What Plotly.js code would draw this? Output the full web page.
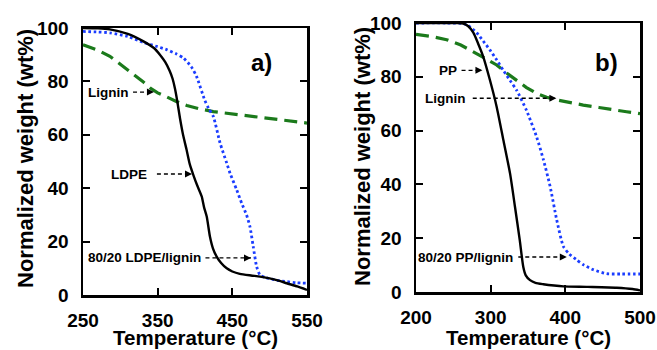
<!DOCTYPE html>
<html>
<head>
<meta charset="utf-8">
<script src="https://cdn.plot.ly/plotly-3.0.1.min.js"></script>
<style>html,body{margin:0;padding:0;background:#fff;}#chart{width:657px;height:350px;}</style>
</head>
<body>
<div id="chart"></div>
<script>
// Panel a) LDPE
const ldpeT = [250, 270, 286, 310, 331, 345, 353, 360, 366, 370, 373, 376, 380, 384, 388.8, 393, 397.7, 403, 409, 412, 415.7, 420, 424, 429, 435, 442.5, 450, 460, 475, 487, 500, 512, 522.8, 537, 550];
const ldpeW = [100, 99.9, 99.5, 97.8, 95, 92.5, 90, 87.3, 84, 81, 77.5, 73, 66, 60, 54.3, 49, 45, 41, 36.9, 33, 29.4, 21.9, 17.5, 14.4, 12, 10, 8.8, 7.9, 7.3, 6.9, 6.2, 5.4, 4.4, 3.2, 1.9];
const ldpeBlendT = [250, 270, 286, 310, 331, 350, 362, 375, 384.5, 395, 402, 413, 418, 424.5, 433.5, 442.5, 447, 455.8, 462.5, 469, 473.6, 478, 482.6, 487, 495, 510, 522.8, 535, 550];
const ldpeBlendW = [98.7, 98.5, 98.2, 96.8, 94.6, 93, 91.9, 90.3, 88.75, 85.5, 81.9, 73, 70, 66.9, 57, 49.4, 45.6, 39.4, 34.4, 30, 25.6, 18.1, 10.6, 7.5, 6.5, 5.5, 5, 4.6, 4.4];
const ligninAT = [250, 270, 286, 300, 317, 330, 340, 350, 362, 375, 389, 405, 424.5, 450, 478, 510, 550];
const ligninAW = [93.7, 91.7, 89.4, 86.5, 83, 80, 77.5, 75.7, 74.2, 72.5, 71, 69.8, 68.7, 67.8, 66.9, 65.8, 64.4];

// Panel b) PP
const ppT = [200, 230, 255, 263.4, 270, 276.8, 283, 290, 299, 308, 317, 326, 332.6, 339, 343.7, 347, 352.7, 360, 370.5, 385, 397.3, 430, 468.8, 490, 500];
const ppW = [100, 100, 100, 99.8, 98.8, 96.4, 92.5, 87.5, 78.8, 68.9, 56.5, 44, 31.6, 19.2, 9.3, 6.2, 4.4, 3.4, 2.9, 2.4, 2.1, 1.9, 1.6, 1.1, 0.6];
const ppBlendT = [200, 240, 263, 270, 281.3, 290, 299, 308, 317, 326, 334.8, 348, 361.6, 370.5, 379.5, 388.4, 397.3, 405, 415, 425, 437.5, 455.4, 475, 500];
const ppBlendW = [100, 100, 99.8, 99, 96.4, 93.3, 90, 86.3, 82.4, 78.6, 75, 67.5, 57.6, 49.3, 39.4, 26.9, 17, 14.2, 12, 10, 8.3, 6.8, 6.7, 6.7];
const ligninBT = [200, 220, 241, 260, 276.8, 290, 308, 320, 334.8, 348, 361.6, 375, 388.4, 405, 424, 445, 464, 482, 500];
const ligninBW = [95.8, 95, 93.8, 91.8, 89.3, 87.2, 84.4, 81.7, 78.8, 76, 73.8, 72.4, 71.4, 70.4, 69.5, 68.6, 67.7, 67, 66.3];

const xTicksA = [250, 350, 450, 550];
const xTicksB = [200, 300, 400, 500];
const yTicks = [0, 20, 40, 60, 80, 100];

const BLACK = '#000000', GREEN = '#1b7a1b', BLUE = '#1a3cff';
const greenDash = '13px,7px';
const blueDot = '2.6px,2.7px';

const traces = [
  {x: ligninAT, y: ligninAW, xaxis: 'x', yaxis: 'y', mode: 'lines', line: {color: GREEN, width: 3.2, dash: greenDash}},
  {x: ldpeBlendT, y: ldpeBlendW, xaxis: 'x', yaxis: 'y', mode: 'lines', line: {color: BLUE, width: 2.8, dash: blueDot, shape: 'spline', smoothing: 0.6}},
  {x: ldpeT, y: ldpeW, xaxis: 'x', yaxis: 'y', mode: 'lines', line: {color: BLACK, width: 2.4, shape: 'spline', smoothing: 0.6}},
  {x: ligninBT, y: ligninBW, xaxis: 'x2', yaxis: 'y2', mode: 'lines', line: {color: GREEN, width: 3.2, dash: greenDash}},
  {x: ppBlendT, y: ppBlendW, xaxis: 'x2', yaxis: 'y2', mode: 'lines', line: {color: BLUE, width: 2.8, dash: blueDot, shape: 'spline', smoothing: 0.6}},
  {x: ppT, y: ppW, xaxis: 'x2', yaxis: 'y2', mode: 'lines', line: {color: BLACK, width: 2.4, shape: 'spline', smoothing: 0.6}}
];

const tickFont = {family: 'Arial, Liberation Sans, sans-serif', size: 19, color: '#000', weight: 'bold'};
function xax(domain, range, ticks, anchor) {
  return {domain: domain, range: range, tickvals: ticks, ticktext: ticks.map(String), anchor: anchor,
    showline: true, linecolor: '#000', linewidth: 2.5, mirror: 'ticks', ticks: 'inside', ticklen: 7, tickwidth: 2,
    tickcolor: '#000', showgrid: false, zeroline: false, tickfont: tickFont, fixedrange: true, ticklabelstandoff: 7};
}
function yax(domain, anchor) {
  return {domain: domain, range: [0, 100], tickvals: yTicks, ticktext: yTicks.map(String), anchor: anchor,
    showline: true, linecolor: '#000', linewidth: 2.5, mirror: 'ticks', ticks: 'inside', ticklen: 7, tickwidth: 2,
    tickcolor: '#000', showgrid: false, zeroline: false, tickfont: tickFont, fixedrange: true, ticklabelstandoff: 8};
}

const W = 657, H = 350;
const FAM = 'Arial, Liberation Sans, sans-serif';
const annFont = {family: FAM, size: 13.5, color: '#000', weight: 'bold'};
const xTitleFont = {family: FAM, size: 20.5, color: '#000', weight: 'bold'};
const yTitleFont = {family: FAM, size: 22, color: '#000', weight: 'bold'};

// labels with dashed arrows: [xref, yref, text, textEndX, arrowStartX, arrowEndX, y]
const labels = [
  ['x', 'y', 'Lignin', 314, 317, 345, 76],
  ['x', 'y', 'LDPE', 339, 349, 396, 45.3],
  ['x', 'y', '80/20 LDPE/lignin', 411, 414, 475, 13.9],
  ['x2', 'y2', 'PP', 257, 261, 289, 82.4],
  ['x2', 'y2', 'Lignin', 270, 276, 388, 72],
  ['x2', 'y2', '80/20 PP/lignin', 332, 337, 402, 13]
];

const annotations = [];
const shapes = [];
labels.forEach(l => {
  annotations.push({xref: l[0], yref: l[1], x: l[3], y: l[6], text: l[2], showarrow: false, xanchor: 'right', yanchor: 'middle', font: annFont});
  shapes.push({type: 'line', xref: l[0], yref: l[1], x0: l[4], x1: l[5], y0: l[6], y1: l[6], line: {color: '#000', width: 1.4, dash: '4px,3px'}});
  annotations.push({xref: l[0], yref: l[1], x: l[5], y: l[6], ax: -6, ay: 0, text: '', showarrow: true, arrowhead: 2, arrowsize: 1, arrowwidth: 1.4, arrowcolor: '#000'});
});
function pAnn(x, y, text, font, angle, yanchor) {
  const a = {xref: 'paper', yref: 'paper', x: x / W, y: 1 - y / H, text: text, showarrow: false, xanchor: 'center', yanchor: yanchor || 'middle', font: font, borderpad: 0};
  if (angle !== undefined) a.textangle = angle;
  annotations.push(a);
}
const panelFont = {family: FAM, size: 24, color: '#000', weight: 'bold'};
pAnn(261, 63, 'a)', panelFont);
pAnn(606, 62, 'b)', panelFont);
pAnn(195, 350, 'Temperature (°C)', xTitleFont, undefined, 'bottom');
pAnn(528, 350, 'Temperature (°C)', xTitleFont, undefined, 'bottom');
pAnn(25, 159, 'Normalized weight (wt%)', yTitleFont, -90);
pAnn(362, 157, 'Normalized weight (wt%)', yTitleFont, -90);

const layout = {
  width: W, height: H, margin: {l: 0, r: 0, t: 0, b: 0}, showlegend: false,
  paper_bgcolor: '#fff', plot_bgcolor: '#fff',
  xaxis: xax([83 / W, 307 / W], [250, 550], xTicksA, 'y'),
  yaxis: yax([1 - 295 / H, 1 - 28 / H], 'x'),
  xaxis2: xax([416 / W, 640 / W], [200, 500], xTicksB, 'y2'),
  yaxis2: yax([1 - 292 / H, 1 - 23 / H], 'x2'),
  annotations: annotations, shapes: shapes
};

Plotly.newPlot('chart', traces, layout, {staticPlot: true, displayModeBar: false});
</script>
</body>
</html>
